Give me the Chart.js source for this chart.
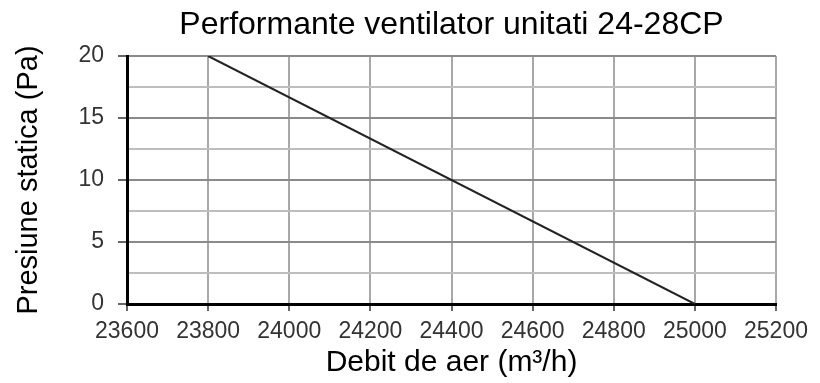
<!DOCTYPE html>
<html>
<head>
<meta charset="utf-8">
<script src="https://cdn.jsdelivr.net/npm/chart.js@4"></script>
<style>
  html, body { margin: 0; padding: 0; background: #fff; }
  #wrap { width: 820px; height: 383px; }
</style>
</head>
<body>
<div id="wrap"><canvas id="fanChart"></canvas></div>
<script>
// fan curve: airflow (m3/h) vs static pressure (Pa)
var airflow = [23800, 25000];
var pressure = [20, 0];
var xTicks = [23600, 23800, 24000, 24200, 24400, 24600, 24800, 25000, 25200];
var yTicks = [0, 5, 10, 15, 20];

document.addEventListener("DOMContentLoaded", function () {
  var ctx = document.getElementById("fanChart").getContext("2d");

  var points = airflow.map(function (x, i) { return { x: x, y: pressure[i] }; });

  function isMajor(v) { return yTicks.indexOf(v) !== -1; }

  var myChart = new Chart(ctx, {
    type: 'line',
    data: {
      datasets: [{
        data: points,
        borderColor: '#222',
        borderWidth: 2,
        pointRadius: 0,
        tension: 0
      }]
    },
    options: {
      responsive: true,
      maintainAspectRatio: false,
      animation: false,
      layout: { padding: { left: 0, right: 44, top: 0, bottom: 0 } },
      plugins: {
        legend: { display: false },
        tooltip: { enabled: false },
        title: { display: false }
      },
      scales: {
        // top axis only carries the chart title, centred over the plot
        top: {
          type: 'linear',
          position: 'top',
          min: xTicks[0],
          max: xTicks[xTicks.length - 1],
          afterFit: function (axis) { axis.height = 56; },
          ticks: { display: false },
          grid: { display: false },
          border: { display: false },
          title: {
            display: true,
            text: 'Performante ventilator unitati 24-28CP',
            color: '#000',
            font: { family: 'Liberation Sans', size: 32, lineHeight: 1.2 },
            padding: { top: 6, bottom: 0 }
          }
        },
        x: {
          type: 'linear',
          min: xTicks[0],
          max: xTicks[xTicks.length - 1],
          afterBuildTicks: function (axis) {
            axis.ticks = xTicks.map(function (v) { return { value: v }; });
          },
          afterFit: function (axis) { axis.height = 79; },
          ticks: {
            color: '#333',
            font: { family: 'Liberation Sans', size: 23 },
            maxRotation: 0,
            autoSkip: false,
            padding: 7,
            callback: function (v) { return String(v); }
          },
          grid: { color: '#a8a8a8', lineWidth: 2, tickLength: 7, tickColor: '#666' },
          border: { color: '#000', width: 3 },
          title: {
            display: true,
            text: 'Debit de aer (m³/h)',
            color: '#000',
            font: { family: 'Liberation Sans', size: 30, lineHeight: 1.2 },
            padding: { top: 0, bottom: 2 }
          }
        },
        y: {
          min: 0,
          max: 20,
          afterFit: function (axis) { axis.width = 127; },
          ticks: {
            stepSize: 2.5,
            color: '#333',
            font: { family: 'Liberation Sans', size: 23 },
            padding: 14,
            autoSkip: false,
            callback: function (v) { return isMajor(v) ? String(v) : ''; }
          },
          grid: {
            lineWidth: 2,
            tickLength: 9,
            color: function (c) { return isMajor(c.tick.value) ? '#8a8a8a' : '#bdbdbd'; },
            tickColor: function (c) { return isMajor(c.tick.value) ? '#666' : 'rgba(0,0,0,0)'; }
          },
          border: { color: '#000', width: 3 },
          title: {
            display: true,
            text: 'Presiune statica (Pa)',
            color: '#000',
            font: { family: 'Liberation Sans', size: 29, lineHeight: 1.2 },
            padding: { top: 12, bottom: 0 }
          }
        }
      }
    }
  });
});
</script>
</body>
</html>
